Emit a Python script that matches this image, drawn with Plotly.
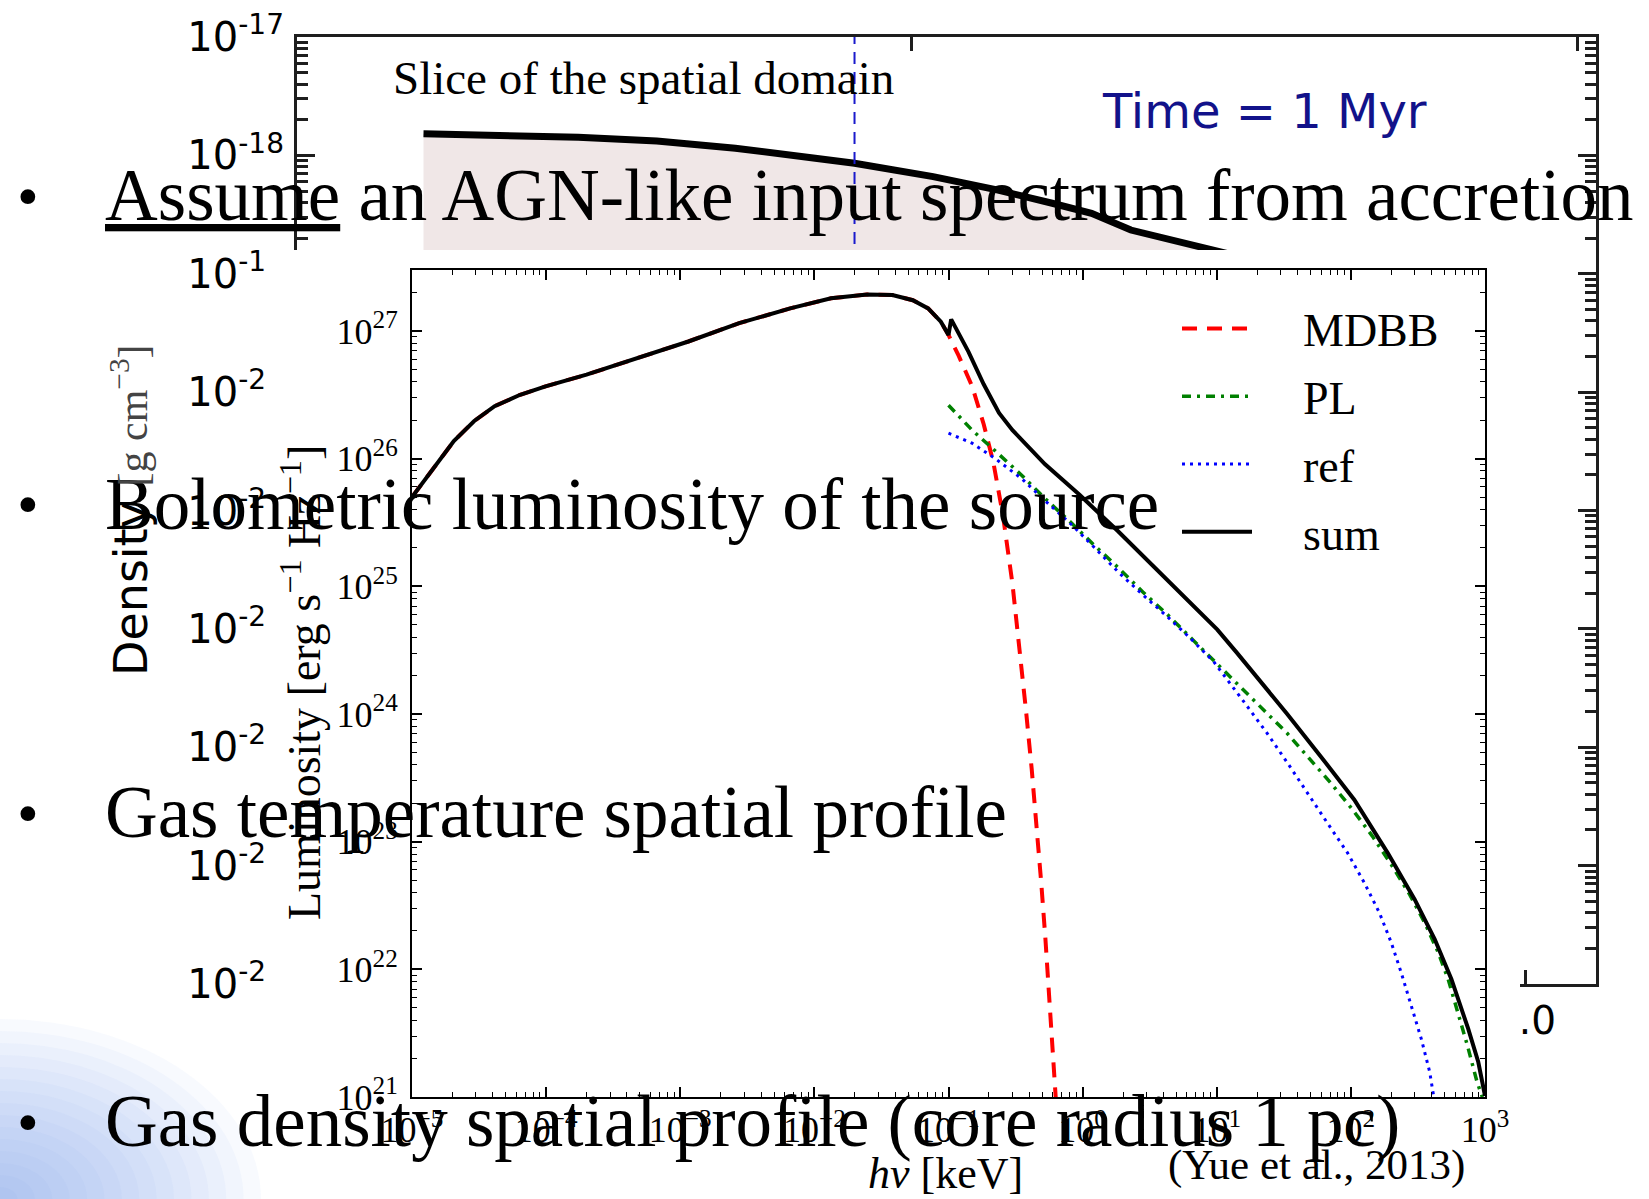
import plotly.graph_objects as go

W, H = 1649, 1199

# ---------------- background panel: density slice ----------------
radius = [0.103, 0.164, 0.229, 0.293, 0.357, 0.422, 0.454, 0.518, 0.570,
          0.615, 0.647, 0.679, 0.712, 0.743, 0.780, 0.850]
density = [1.52e-18, 1.48e-18, 1.42e-18, 1.32e-18, 1.15e-18, 9.46e-19,
           8.57e-19, 6.61e-19, 5.11e-19, 3.94e-19, 3.24e-19, 2.34e-19,
           1.93e-19, 1.64e-19, 1.30e-19, 9.0e-20]
density_floor = 1e-26
slice_radius = 0.454
density_ticks = [1e-17, 1e-18, 1e-19, 1e-20, 1e-21, 1e-22, 1e-23, 1e-24, 1e-25]
density_ticktext = ["10<sup>-17</sup>", "10<sup>-18</sup>", "10<sup>-19</sup>",
                    "10<sup>-20</sup>", "10<sup>-21</sup>", "10<sup>-22</sup>",
                    "10<sup>-23</sup>", "10<sup>-24</sup>", "10<sup>-25</sup>"]

# ---------------- spectrum panel: AGN input spectrum ----------------
# multicolour disc black body, shared by MDBB and the sum below 0.1 keV
disc_energy = [1.0e-5, 1.45e-5, 2.05e-5, 2.91e-5, 4.13e-5, 6.4e-5, 9.9e-5,
               2.0e-4, 4.8e-4, 1.15e-3, 2.75e-3, 6.6e-3, 1.33e-2, 2.47e-2,
               3.82e-2, 5.42e-2, 7.05e-2, 8.77e-2, 0.1]
disc_lum = [5.0e25, 8.5e25, 1.37e26, 1.97e26, 2.57e26, 3.16e26, 3.68e26,
            4.54e26, 6.12e26, 8.26e26, 1.15e27, 1.50e27, 1.80e27, 1.93e27,
            1.91e27, 1.74e27, 1.50e27, 1.18e27, 9.3e26]
mdbb_tail_energy = [0.119, 0.150, 0.183, 0.216, 0.255, 0.300, 0.342, 0.378,
                    0.417, 0.452, 0.492, 0.527, 0.575, 0.631, 0.65]
mdbb_tail_lum = [6.40e26, 3.69e26, 1.86e26, 9.33e25, 3.56e25, 1.04e25, 3.01e24,
                 1.07e24, 3.72e23, 1.41e23, 4.68e22, 1.78e22, 4.79e21, 1.05e21,
                 6.0e20]
pl_energy = [0.1, 0.150, 0.231, 0.354, 0.525, 0.805, 1.23, 1.83, 2.81, 4.31,
             6.61, 9.79, 14.6, 22.4, 33.5, 48.7, 70.8, 103, 145, 200, 274, 355,
             447, 531, 631, 741, 871, 955]
pl_lum = [2.62e26, 1.67e26, 1.11e26, 7.35e25, 4.86e25, 3.21e25, 2.08e25,
          1.41e25, 9.02e24, 5.97e24, 3.82e24, 2.53e24, 1.68e24, 1.07e24,
          7.06e23, 4.51e23, 2.88e23, 1.78e23, 1.10e23, 6.62e22, 3.86e22,
          2.32e22, 1.36e22, 8.38e21, 4.60e21, 2.51e21, 1.32e21, 1.0e21]
ref_energy = [0.1, 0.150, 0.223, 0.354, 0.525, 0.832, 1.23, 1.89, 2.90, 4.31,
              6.40, 9.48, 15.8, 23.7, 33.5, 47.3, 66.8, 94.4, 126, 163, 200,
              237, 282, 335, 387, 415]
ref_lum = [1.58e26, 1.32e26, 1.0e26, 6.92e25, 4.68e25, 3.02e25, 2.0e25,
           1.26e25, 8.32e24, 5.75e24, 3.89e24, 2.57e24, 1.26e24, 7.08e23,
           4.17e23, 2.40e23, 1.40e23, 8.17e22, 4.76e22, 2.78e22, 1.62e22,
           9.46e21, 5.19e21, 2.85e21, 1.57e21, 1.0e21]
sum_hard_energy = [0.1047, 0.141, 0.183, 0.238, 0.300, 0.525, 0.948, 1.83,
                   3.10, 5.25, 10.1, 14.1, 20.0, 33.5, 59.6, 106, 188, 299,
                   422, 562, 750, 891, 1000]
sum_hard_lum = [1.23e27, 6.86e26, 3.82e26, 2.28e26, 1.67e26, 9.02e25, 5.2e25,
                2.71e25, 1.56e25, 8.9e24, 4.57e24, 3.02e24, 1.95e24, 1.0e24,
                4.65e23, 2.13e23, 8.17e22, 3.53e22, 1.72e22, 8.38e21, 3.41e21,
                1.88e21, 1.02e21]

energy_ticks = [1e-5, 1e-4, 1e-3, 1e-2, 1e-1, 1e0, 1e1, 1e2, 1e3]
energy_ticktext = ["10<sup>\u22125</sup>", "10<sup>\u22124</sup>", "10<sup>\u22123</sup>",
                   "10<sup>\u22122</sup>", "10<sup>\u22121</sup>", "10<sup>0</sup>",
                   "10<sup>1</sup>", "10<sup>2</sup>", "10<sup>3</sup>"]
lum_ticks = [1e21, 1e22, 1e23, 1e24, 1e25, 1e26, 1e27]
lum_ticktext = ["10<sup>21</sup>", "10<sup>22</sup>", "10<sup>23</sup>", "10<sup>24</sup>",
                "10<sup>25</sup>", "10<sup>26</sup>", "10<sup>27</sup>"]

bullets = ["<u>Assume</u> an AGN-like input spectrum from accretion",
           "Bolometric luminosity of the source",
           "Gas temperature spatial profile",
           "Gas density spatial profile (core radius 1 pc)"]

SERIF = "Liberation Serif"
SANS = "DejaVu Sans"
GAP = "\u00a0\u00a0\u00a0\u00a0"   # space between legend key and label


def px(x):
    return x / W


def py(y):
    return 1 - y / H


fig = go.Figure()

# background panel traces
fig.add_trace(go.Scatter(x=[radius[0], radius[-1]], y=[density_floor, density_floor],
                         mode="lines", line=dict(width=0), showlegend=False,
                         hoverinfo="skip", xaxis="x", yaxis="y"))
fig.add_trace(go.Scatter(x=radius, y=density, mode="lines", fill="tonexty",
                         fillcolor="#f0e7e7", line=dict(color="black", width=7),
                         showlegend=False, xaxis="x", yaxis="y"))
fig.add_trace(go.Scatter(x=[slice_radius, slice_radius], y=[1e-25, 1e-17], mode="lines",
                         line=dict(color="#1a1acc", width=2, dash="12px,8px"),
                         showlegend=False, xaxis="x", yaxis="y"))
# top axis of the density panel
fig.add_trace(go.Scatter(x=[], y=[], xaxis="x4", yaxis="y", showlegend=False,
                         hoverinfo="skip"))

# blank panel that the spectrum sits on
fig.add_trace(go.Scatter(x=[], y=[], xaxis="x2", yaxis="y2", showlegend=False,
                         hoverinfo="skip"))

# spectrum traces
fig.add_trace(go.Scatter(x=disc_energy + mdbb_tail_energy, y=disc_lum + mdbb_tail_lum,
                         mode="lines", name=GAP + "MDBB", legendgroup="a",
                         line=dict(color="red", width=4, dash="15px,10px"),
                         xaxis="x3", yaxis="y3"))
fig.add_trace(go.Scatter(x=pl_energy, y=pl_lum, mode="lines", name=GAP + "PL",
                         legendgroup="b",
                         line=dict(color="green", width=3.5, dash="9px,6px,3px,6px"),
                         xaxis="x3", yaxis="y3"))
fig.add_trace(go.Scatter(x=ref_energy, y=ref_lum, mode="lines", name=GAP + "ref",
                         legendgroup="c",
                         line=dict(color="blue", width=3, dash="3px,5px"),
                         xaxis="x3", yaxis="y3"))
fig.add_trace(go.Scatter(x=disc_energy + sum_hard_energy, y=disc_lum + sum_hard_lum,
                         mode="lines", name=GAP + "sum", legendgroup="d",
                         line=dict(color="black", width=4),
                         xaxis="x3", yaxis="y3"))

bg_axis = dict(showline=True, linecolor="#1e1e1e", linewidth=3, ticks="inside",
               tickcolor="#1e1e1e", showgrid=False, zeroline=False)


def note(x, y, text, size, family=SERIF, color="black", angle=0,
         xanchor="center", yanchor="middle"):
    return dict(x=px(x), y=py(y), xref="paper", yref="paper", text=text,
                showarrow=False, xanchor=xanchor, yanchor=yanchor, textangle=angle,
                font=dict(family=family, size=size, color=color))


annotations = []
for i, text in enumerate(bullets):
    yc = 196 + i * 308.5
    annotations.append(note(28, yc, "\u2022", 62))
    annotations.append(note(103, yc, text, 73, xanchor="left"))

annotations += [
    note(643, 78, "Slice of the spatial domain", 47),
    note(1264, 111, "Time = 1 Myr", 48, family=SANS, color="#12128a"),
    note(130, 510,
         "Density <span style='font-family:Liberation Serif;font-size:42px;fill:#444'>"
         "[g cm<sup>\u22123</sup>]</span>",
         46, family=SANS, angle=-90),
    note(301, 683, "Luminosity [erg s<sup>\u22121</sup> Hz<sup>\u22121</sup>]", 46, angle=-90),
    note(946, 1173, "<i>h\u03bd</i> [keV]", 44),
    note(1316, 1165, "(Yue et al., 2013)", 43),
]

# soft blue glow in the lower-left corner of the slide
shapes = []
for r in range(180, 0, -12):
    shapes.append(dict(type="circle", xref="paper", yref="paper",
                       x0=-1.45 * r / W, x1=1.45 * r / W, y0=-r / H, y1=r / H,
                       fillcolor="rgba(110,155,235,0.05)", line=dict(width=0),
                       layer="below"))

fig.update_layout(
    width=W, height=H, autosize=False,
    margin=dict(l=0, r=0, t=0, b=0, pad=0, autoexpand=False),
    paper_bgcolor="white", plot_bgcolor="white",
    showlegend=True,
    legend=dict(x=px(1177), y=py(292), xanchor="left", yanchor="top",
                bgcolor="rgba(0,0,0,0)", itemwidth=70, traceorder="grouped",
                font=dict(family=SERIF, size=46, color="black"),
                tracegroupgap=5),
    annotations=annotations,
    shapes=shapes,
    # density panel
    xaxis=dict(domain=[px(297), px(1596)], range=[0, 1.0578], anchor="y",
               tickvals=[1.0], ticktext=["1.0"], ticklen=14, tickwidth=3,
               tickfont=dict(family=SANS, size=39, color="black"), **bg_axis),
    xaxis4=dict(overlaying="x", side="top", anchor="y", range=[-0.9207, 1.0271],
                tickvals=[0, 1], showticklabels=False, ticklen=14, tickwidth=3,
                **bg_axis),
    yaxis=dict(domain=[py(984), py(37)], type="log", range=[-25, -17], anchor="x",
               tickvals=density_ticks, ticktext=density_ticktext, mirror="ticks",
               ticklen=18, tickwidth=3, ticklabelstandoff=2,
               tickfont=dict(family=SANS, size=40, color="black"),
               minor=dict(ticks="inside", ticklen=11, tickwidth=2.5, tickcolor="#1e1e1e",
                          dtick="D1", showgrid=False),
               **bg_axis),
    # blank panel
    xaxis2=dict(domain=[px(265), px(1520)], range=[0, 1], anchor="y2", visible=False),
    yaxis2=dict(domain=[0, py(250)], range=[0, 1], anchor="x2", visible=False),
    # spectrum panel
    xaxis3=dict(domain=[px(412), px(1485)], type="log", range=[-5, 3], anchor="y3",
                showline=True, linecolor="black", linewidth=2, mirror="ticks",
                ticks="inside", ticklen=10, tickwidth=1.5, tickcolor="black",
                tickvals=energy_ticks, ticktext=energy_ticktext,
                tickfont=dict(family=SERIF, size=36, color="black"),
                minor=dict(ticks="inside", ticklen=5, tickwidth=1.2, tickcolor="black",
                           dtick="D1", showgrid=False),
                showgrid=False, zeroline=False),
    yaxis3=dict(domain=[py(1097), py(270)], type="log", range=[21, 27.477], anchor="x3",
                showline=True, linecolor="black", linewidth=2, mirror="ticks",
                ticks="inside", ticklen=10, tickwidth=1.5, tickcolor="black",
                tickvals=lum_ticks, ticktext=lum_ticktext, ticklabelstandoff=5,
                tickfont=dict(family=SERIF, size=36, color="black"),
                minor=dict(ticks="inside", ticklen=5, tickwidth=1.2, tickcolor="black",
                           dtick="D1", showgrid=False),
                showgrid=False, zeroline=False),
)

fig.write_html("out.html")
